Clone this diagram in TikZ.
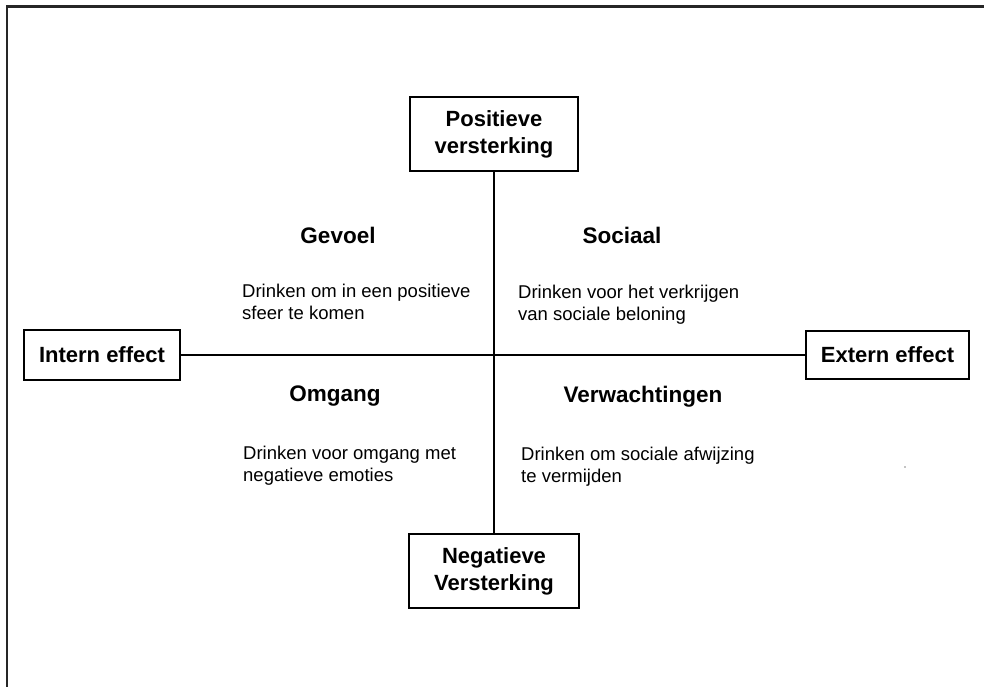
\documentclass[tikz,border=0pt]{standalone}
\usepackage{fontspec}
\setmainfont{Liberation Sans}

\tikzset{
  axisbox/.style={draw, line width=1.3pt, align=center, inner sep=0pt,
    font=\fontsize{22}{27}\selectfont\bfseries},
  quadhead/.style={anchor=base, inner sep=0pt, font=\fontsize{22.5}{25}\selectfont\bfseries},
  quadtext/.style={anchor=base west, inner sep=0pt, align=left,
    font=\fontsize{18.5}{22}\selectfont},
}

\begin{document}
\begin{tikzpicture}[x=1pt, y=-1pt]
  \useasboundingbox (0,0) rectangle (984,686);
  % frame (runs off the right and bottom)
  \draw[line width=2.2pt, black!85] (7,700) -- (7,6.5) -- (995,6.5);

  % axes
  \node[axisbox, minimum width=168pt, minimum height=74pt] (pos) at (494,134) {Positieve\\versterking};
  \node[axisbox, minimum width=170pt, minimum height=74pt] (neg) at (494,571) {Negatieve\\Versterking};
  \node[axisbox, minimum width=156pt, minimum height=50pt] (intern) at (102,355) {Intern effect};
  \node[axisbox, minimum width=163pt, minimum height=48pt] (extern) at (887.5,355) {Extern effect};
  \draw[line width=1.1pt] (pos) -- (neg);
  \draw[line width=1.1pt] (intern) -- (extern);

  % quadrants (text nodes sit on the baseline of their last line)
  \node[quadhead] (gevoel) at (338,243) {Gevoel};
  \node[quadtext] (gevoeltxt) at (242,319) {Drinken om in een positieve\\sfeer te komen};
  \node[quadhead] (sociaal) at (622,243) {Sociaal};
  \node[quadtext] (sociaaltxt) at (518,320) {Drinken voor het verkrijgen\\van sociale beloning};
  \node[quadhead] (omgang) at (335,401) {Omgang};
  \node[quadtext] (omgangtxt) at (243,481) {Drinken voor omgang met\\negatieve emoties};
  \node[quadhead] (verwacht) at (643,402) {Verwachtingen};
  \node[quadtext] (verwachttxt) at (521,482) {Drinken om sociale afwijzing\\te vermijden};

  \fill (905,467) circle (0.7);
\end{tikzpicture}
\end{document}
